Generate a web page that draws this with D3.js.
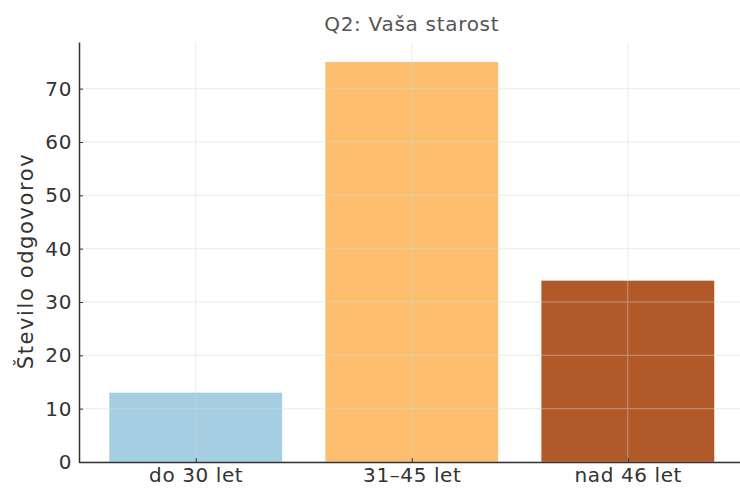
<!DOCTYPE html>
<html>
<head>
<meta charset="utf-8">
<script src="https://cdn.jsdelivr.net/npm/d3@7"></script>
<style>
  body { margin: 0; background: #fff; }
  svg text { font-family: "DejaVu Sans", sans-serif; }
  .grid line { stroke: #d8d8d8; stroke-width: 0.8; }
  .axis path, .axis line { stroke: #333; }
  .axis text { fill: #333; font-size: 20px; letter-spacing: 0.6px; }
</style>
</head>
<body>
<div id="chart"></div>
<script>
var categories = ["do 30 let", "31–45 let", "nad 46 let"];
var counts = [13, 75, 34];
var colors = ["#a6cee3", "#fdbf6f", "#b15928"];
var yTicks = [0, 10, 20, 30, 40, 50, 60, 70];

var W = 740, H = 488;
var margin = {top: 42, right: 0, bottom: 26, left: 79};
var width = W - margin.left - margin.right,
    height = H - margin.top - margin.bottom;

var svg = d3.select("#chart").append("svg")
    .attr("width", W)
    .attr("height", H);

var g = svg.append("g")
    .attr("transform", "translate(" + margin.left + "," + margin.top + ")");

// linear x like matplotlib: index positions, xlim -0.54..2.54
var x = d3.scaleLinear()
    .domain([-0.54, 2.54])
    .range([0, 665.5]);
var barW = x(0.8) - x(0);

var y = d3.scaleLinear()
    .domain([0, d3.max(counts) * 1.05])
    .range([height, 0]);

// bars
g.selectAll(".bar")
    .data(counts)
    .enter().append("rect")
    .attr("class", "bar")
    .attr("x", function(d, i) { return x(i) - barW / 2; })
    .attr("width", barW)
    .attr("y", function(d) { return y(d); })
    .attr("height", function(d) { return height - y(d); })
    .attr("fill", function(d, i) { return colors[i]; });

// grid on top, faint
var grid = g.append("g").attr("class", "grid").attr("opacity", 0.6);
grid.selectAll(".hl")
    .data(yTicks)
    .enter().append("line")
    .attr("x1", 0).attr("x2", width)
    .attr("y1", function(d) { return y(d); })
    .attr("y2", function(d) { return y(d); });
grid.selectAll(".vl")
    .data(categories)
    .enter().append("line")
    .attr("y1", 0).attr("y2", height)
    .attr("x1", function(d, i) { return x(i); })
    .attr("x2", function(d, i) { return x(i); });

// axes
var yAxis = d3.axisLeft(y).tickValues(yTicks).tickSizeInner(-4).tickSizeOuter(0).tickPadding(7);
g.append("g")
    .attr("class", "axis")
    .call(yAxis)
    .call(function(s) { s.select(".domain").attr("stroke-width", 1.5); });

var xAxis = d3.axisBottom(x)
    .tickValues([0, 1, 2])
    .tickFormat(function(d) { return categories[d]; })
    .tickSizeInner(-4).tickSizeOuter(0).tickPadding(6);
g.append("g")
    .attr("class", "axis")
    .attr("transform", "translate(0," + height + ")")
    .call(xAxis)
    .call(function(s) { s.select(".domain").attr("stroke-width", 1.5); });

// title
svg.append("text")
    .attr("x", margin.left + x(1))
    .attr("y", 31)
    .attr("text-anchor", "middle")
    .attr("fill", "#555")
    .style("font-size", "20px")
    .style("letter-spacing", "0.7px")
    .text("Q2: Vaša starost");

// y label
svg.append("text")
    .attr("transform", "translate(33," + (margin.top + height / 2 + 9) + ") rotate(-90)")
    .attr("text-anchor", "middle")
    .attr("fill", "#333")
    .style("font-size", "21px")
    .style("letter-spacing", "1.6px")
    .text("Število odgovorov");
</script>
</body>
</html>
